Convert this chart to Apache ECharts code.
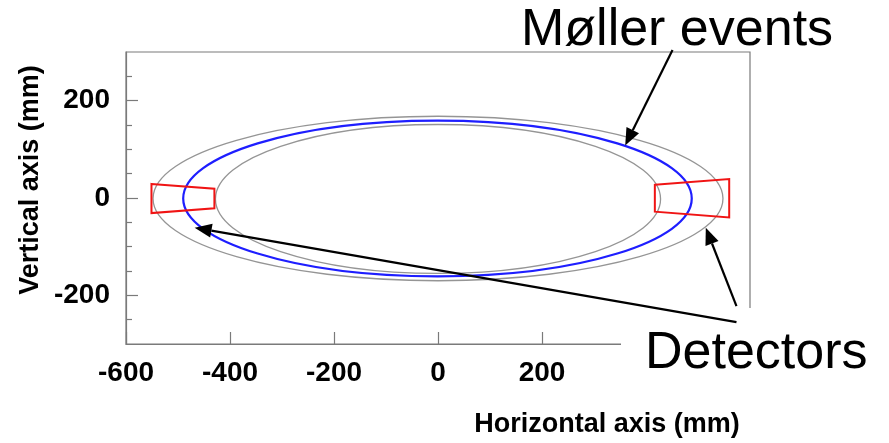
<!DOCTYPE html>
<html>
<head>
<meta charset="utf-8">
<title>Møller events and detectors</title>
<script src="https://cdn.jsdelivr.net/npm/echarts@6/dist/echarts.min.js"></script>
<style>
  html, body { margin: 0; padding: 0; background: #fff; }
  #chart { width: 889px; height: 443px; }
</style>
</head>
<body>
<div id="chart"></div>
<script>
// Axis ticks (mm)
const xTickValues = [-600, -400, -200, 0, 200, 400, 600];
const xLabelValues = [-600, -400, -200, 0, 200];
const yTickValues = [-200, 0, 200];
const yMinorTickValues = [-250, -150, -100, -50, 50, 100, 150, 250];

// Acceptance boundaries and the Møller ring: [centre x, centre y, half-width, half-height] in mm
const acceptanceOuter = [0, -1, 548, 169];
const acceptanceInner = [0, -2, 428, 153];
const mollerRing = [-1, -1, 489, 160];

// Detector outlines, corner points in mm
const detectorLeft = [[-551, 29], [-430, 19], [-430, -21], [-551, -31]];
const detectorRight = [[417, 27], [560, 39], [560, -40], [417, -28]];

// Annotation arrows: [tail x, tail y, tip x, tip y] in mm
const mollerArrows = [[451, 304, 360, 108]];
const detectorArrows = [[574, -222, 515, -61], [574, -255, -468, -61]];

const FONT = 'Liberation Sans, Arial, Helvetica, sans-serif';
const AXIS_GREY = '#7a7a7a';

function ellipseSeries(name, params, color, width) {
  return {
    name: name,
    type: 'custom',
    coordinateSystem: 'cartesian2d',
    xAxisIndex: 0,
    yAxisIndex: 0,
    data: [params],
    z: 3,
    renderItem: function (p, api) {
      const c = api.coord([api.value(0), api.value(1)]);
      const s = api.size([api.value(2), api.value(3)]);
      return {
        type: 'ellipse',
        shape: { cx: c[0], cy: c[1], rx: s[0], ry: s[1] },
        style: { fill: null, stroke: color, lineWidth: width }
      };
    }
  };
}

function polygonSeries(name, corners, color) {
  return {
    name: name,
    type: 'custom',
    coordinateSystem: 'cartesian2d',
    data: [corners.flat()],
    z: 4,
    renderItem: function (p, api) {
      const pts = [];
      for (let i = 0; i < corners.length; i++) {
        pts.push(api.coord([api.value(2 * i), api.value(2 * i + 1)]));
      }
      return {
        type: 'polygon',
        shape: { points: pts },
        style: { fill: null, stroke: color, lineWidth: 2, lineJoin: 'miter' }
      };
    }
  };
}

function arrowSeries(name, arrows) {
  return {
    name: name,
    type: 'custom',
    coordinateSystem: 'cartesian2d',
    clip: false,
    data: arrows,
    z: 20,
    renderItem: function (p, api) {
      const a = api.coord([api.value(0), api.value(1)]);
      const b = api.coord([api.value(2), api.value(3)]);
      const dx = b[0] - a[0], dy = b[1] - a[1];
      const len = Math.sqrt(dx * dx + dy * dy);
      const ux = dx / len, uy = dy / len;
      const headLen = 17, headHalf = 7;
      const bx = b[0] - ux * headLen, by = b[1] - uy * headLen;
      return {
        type: 'group',
        children: [
          {
            type: 'line',
            shape: { x1: a[0], y1: a[1], x2: bx, y2: by },
            style: { stroke: '#000', lineWidth: 2.2 }
          },
          {
            type: 'polygon',
            shape: {
              points: [
                [b[0], b[1]],
                [bx - uy * headHalf, by + ux * headHalf],
                [bx + uy * headHalf, by - ux * headHalf]
              ]
            },
            style: { fill: '#000' }
          }
        ]
      };
    }
  };
}

const chart = echarts.init(document.getElementById('chart'), null, { renderer: 'canvas' });

const axisLabelStyle = {
  fontFamily: FONT,
  fontWeight: 'bold',
  fontSize: 28,
  color: '#000'
};

chart.setOption({
  animation: false,
  backgroundColor: '#fff',
  grid: {
    left: 126, right: 139, top: 52, bottom: 99,
    show: true, borderColor: AXIS_GREY, borderWidth: 1.2, backgroundColor: 'transparent'
  },
  xAxis: {
    type: 'value',
    min: -600, max: 600, interval: 200,
    axisLine: { show: true, onZero: false, lineStyle: { color: AXIS_GREY, width: 1.2 } },
    axisTick: { show: true, inside: true, length: 12, customValues: xTickValues, lineStyle: { color: AXIS_GREY, width: 1.2 } },
    axisLabel: Object.assign({ margin: 15, customValues: xLabelValues }, axisLabelStyle),
    splitLine: { show: false }
  },
  yAxis: [
    {
      type: 'value',
      min: -300, max: 300,
      position: 'left',
      axisLine: { show: true, onZero: false, lineStyle: { color: AXIS_GREY, width: 1.2 } },
      axisTick: { show: true, inside: true, length: 12, customValues: yTickValues, lineStyle: { color: AXIS_GREY, width: 1.2 } },
      axisLabel: Object.assign({ margin: 16, customValues: yTickValues }, axisLabelStyle),
      splitLine: { show: false }
    },
    {
      type: 'value',
      min: -300, max: 300,
      position: 'left',
      axisLine: { show: false, onZero: false },
      axisTick: { show: true, inside: true, length: 6, customValues: yMinorTickValues, lineStyle: { color: AXIS_GREY, width: 1.2 } },
      axisLabel: { show: false },
      splitLine: { show: false }
    }
  ],
  graphic: [
    {
      type: 'rect',
      left: 621, top: 308,
      shape: { width: 268, height: 88 },
      style: { fill: '#fff' },
      z: 10
    },
    {
      type: 'text',
      left: 645, top: 328,
      style: { text: 'Detectors', font: '52px ' + FONT, fill: '#000' },
      z: 11
    },
    {
      type: 'text',
      left: 521, top: 5,
      style: { text: 'Møller events', font: '52px ' + FONT, fill: '#000' },
      z: 11
    },
    {
      type: 'text',
      x: 607, y: 425,
      style: { text: 'Horizontal axis (mm)', font: 'bold 27px ' + FONT, fill: '#000', align: 'center', verticalAlign: 'middle' },
      z: 11
    },
    {
      type: 'text',
      x: 31, y: 180,
      rotation: Math.PI / 2,
      style: { text: 'Vertical axis (mm)', font: 'bold 27px ' + FONT, fill: '#000', align: 'center', verticalAlign: 'middle' },
      z: 11
    }
  ],
  series: [
    ellipseSeries('Outer acceptance', acceptanceOuter, '#959595', 1.3),
    ellipseSeries('Inner acceptance', acceptanceInner, '#959595', 1.3),
    ellipseSeries('Møller events', mollerRing, '#1e1eff', 2.2),
    polygonSeries('Left detector', detectorLeft, '#f01414'),
    polygonSeries('Right detector', detectorRight, '#f01414'),
    arrowSeries('Møller arrow', mollerArrows),
    arrowSeries('Detector arrows', detectorArrows)
  ]
});
</script>
</body>
</html>
